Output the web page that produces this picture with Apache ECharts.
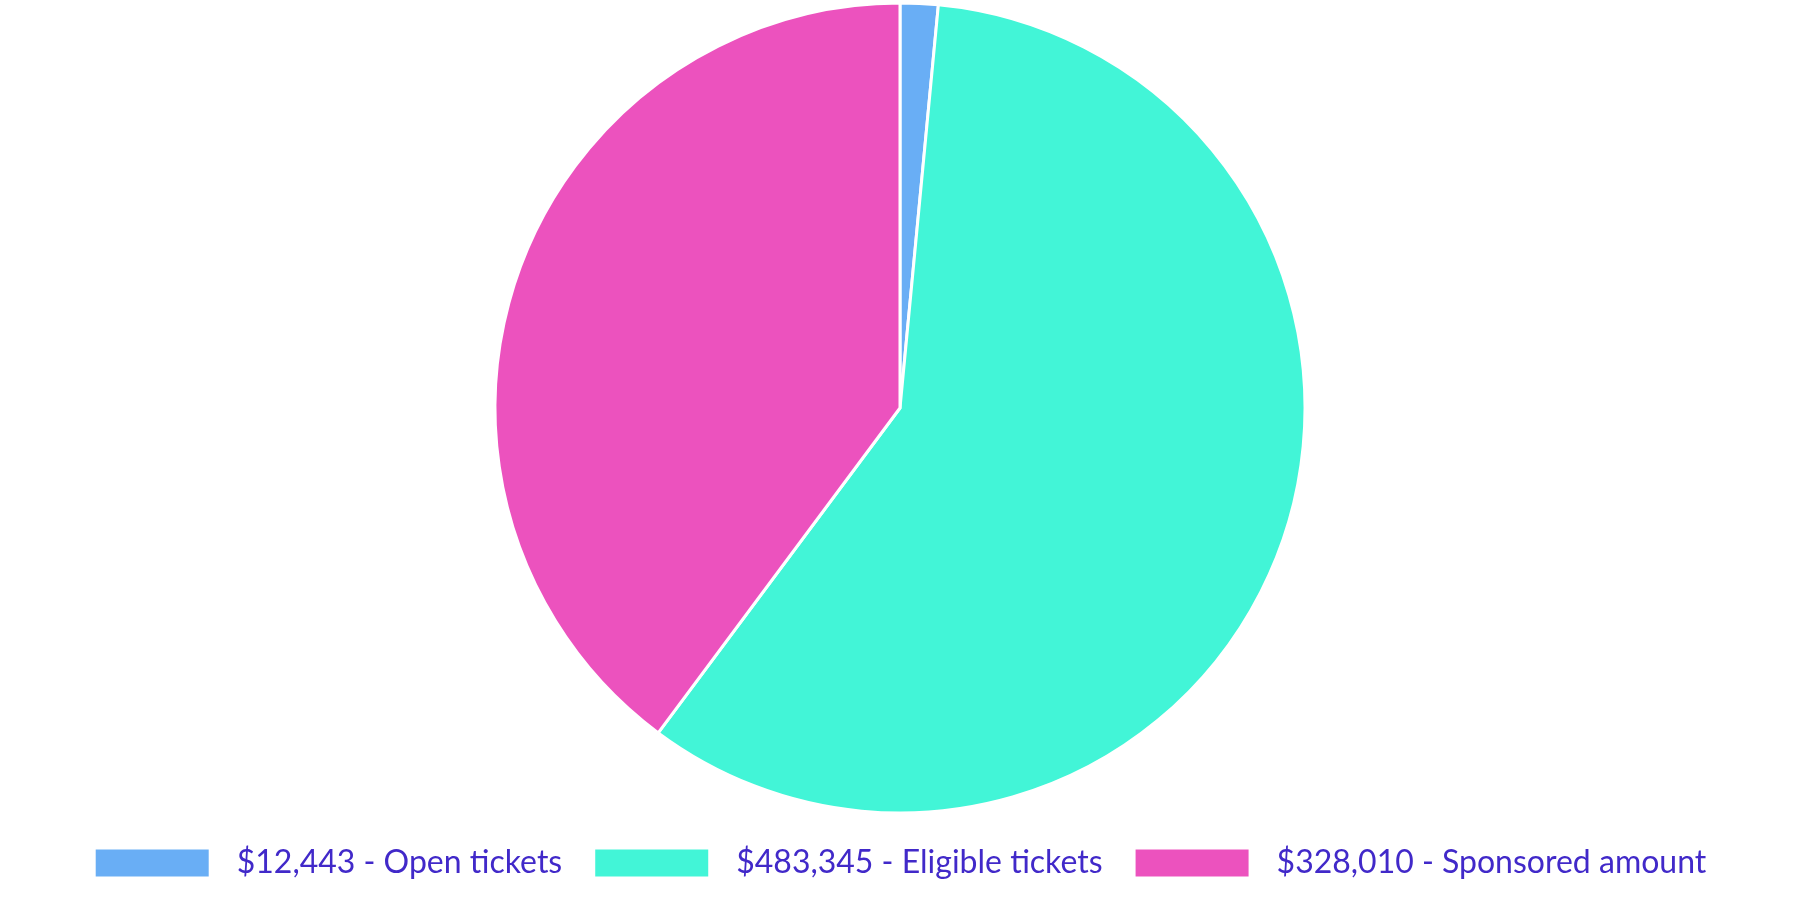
<!DOCTYPE html>
<html>
<head>
<meta charset="utf-8">
<script src="https://cdn.jsdelivr.net/npm/echarts@6/dist/echarts.min.js"></script>
<style>
html,body{margin:0;padding:0;background:#fff;}
#chart{width:1800px;height:900px;}
</style>
</head>
<body>
<div id="chart"></div>
<script>
const categories = ['Open tickets', 'Eligible tickets', 'Sponsored amount'];
const values = [12443, 483345, 328010];
const colors = ['#69aef5', '#42f5d7', '#ec52be'];

const fmt = v => '$' + v.toLocaleString('en-US');
const data = categories.map((c, i) => ({
  name: fmt(values[i]) + ' - ' + c,
  value: values[i],
  itemStyle: { color: colors[i] }
}));

const chart = echarts.init(document.getElementById('chart'));
chart.setOption({
  animation: false,
  legend: {
    bottom: 16,
    left: 'center',
    itemWidth: 115,
    itemHeight: 29,
    itemGap: 31,
    icon: 'rect',
    textStyle: {
      fontFamily: 'Lato',
      fontSize: 32,
      color: '#4129c9',
      padding: [0, 0, 0, 22]
    },
    data: data.map(d => d.name)
  },
  series: [{
    type: 'pie',
    center: [900, 408],
    radius: 405,
    startAngle: 90,
    clockwise: true,
    label: { show: false },
    labelLine: { show: false },
    itemStyle: { borderColor: '#ffffff', borderWidth: 3 },
    emphasis: { disabled: true },
    data: data
  }]
});
</script>
</body>
</html>
